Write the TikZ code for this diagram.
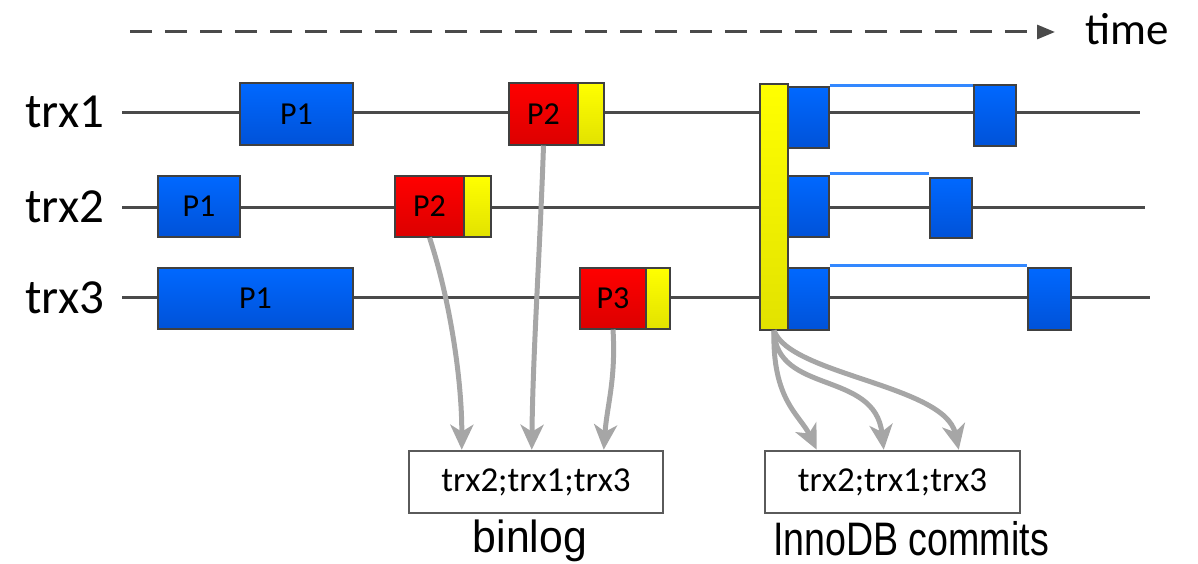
\documentclass[tikz,border=0pt]{standalone}
\usepackage{fontspec}
\setmainfont{Carlito}
\newfontfamily\captionfont{Liberation Sans}
\usetikzlibrary{arrows.meta,calc}

\definecolor{axisgray}{HTML}{4A4A4A}
\definecolor{flowgray}{HTML}{A6A6A6}
\definecolor{edgegray}{HTML}{404040}
\definecolor{logedge}{HTML}{5A5A5A}
\definecolor{blueTop}{HTML}{0068FF}
\definecolor{blueBot}{HTML}{0052D8}
\definecolor{redTop}{HTML}{FF0000}
\definecolor{redBot}{HTML}{DC0000}
\definecolor{yelTop}{HTML}{FFFF00}
\definecolor{yelBot}{HTML}{E2E200}
\definecolor{linkblue}{HTML}{3388FF}

\begin{document}
\begin{tikzpicture}[x=1pt,y=-1pt,
  phase/.style={draw=edgegray, line width=1.1pt, inner sep=0pt,
                font=\fontsize{32}{36}\selectfont},
  bluebox/.style={phase, top color=blueTop, bottom color=blueBot},
  redbox/.style={phase, top color=redTop, bottom color=redBot},
  yelbox/.style={phase, top color=yelTop, bottom color=yelBot},
  rowline/.style={axisgray, line width=3pt},
  rowlabel/.style={anchor=base west, inner sep=0pt, font=\fontsize{49}{55}\selectfont},
  flow/.style={flowgray, line width=5pt,
               -{Stealth[length=25pt,width=23pt,inset=7pt]}},
  logbox/.style={draw=logedge, line width=2.5pt, inner sep=0pt,
                 minimum width=254, minimum height=62,
                 font=\fontsize{35}{40}\selectfont},
  link/.style={linkblue, line width=3pt},
  caption/.style={anchor=base, inner sep=0pt}
]
\useasboundingbox (0,0) rectangle (1198,564);

% time axis
\coordinate (tstart) at (130,32);
\coordinate (tend) at (1055,32);
\draw[axisgray, line width=3pt, dash pattern=on 22pt off 13pt,
      -{Triangle[length=18pt,width=14pt]}] (tstart) -- (tend);
\node[anchor=base west, inner sep=0pt, font=\fontsize{45}{50}\selectfont]
  (timelbl) at (1085,45) {time};

% transaction timelines
\coordinate (r1a) at (122,113);  \coordinate (r1b) at (1140,113);
\coordinate (r2a) at (122,207);  \coordinate (r2b) at (1145,207);
\coordinate (r3a) at (122,297);  \coordinate (r3b) at (1150,297);
\draw[rowline] (r1a) -- (r1b);
\draw[rowline] (r2a) -- (r2b);
\draw[rowline] (r3a) -- (r3b);

\node[rowlabel] (lbl1) at (25,128) {trx1};
\node[rowlabel] (lbl2) at (25,222) {trx2};
\node[rowlabel] (lbl3) at (25,313) {trx3};

% trx1 phases
\node[bluebox, minimum width=113, minimum height=62] (t1p1) at (296.5,114) {P1};
\node[redbox,  minimum width=69,  minimum height=62] (t1p2) at (543.5,114) {P2};
\node[yelbox,  minimum width=26,  minimum height=62] (t1y)  at (591,114) {};

% trx2 phases
\node[bluebox, minimum width=82, minimum height=61] (t2p1) at (199,206.5) {P1};
\node[redbox,  minimum width=69, minimum height=61] (t2p2) at (429.5,206.5) {P2};
\node[yelbox,  minimum width=27, minimum height=61] (t2y)  at (477.5,206.5) {};

% trx3 phases
\node[bluebox, minimum width=195, minimum height=61] (t3p1) at (255.5,298.5) {P1};
\node[redbox,  minimum width=66,  minimum height=61] (t3p3) at (613,298.5) {P3};
\node[yelbox,  minimum width=24,  minimum height=61] (t3y)  at (658,298.5) {};

% group commit
\node[yelbox, minimum width=28, minimum height=246] (bar) at (774,207) {};

\node[bluebox, minimum width=41, minimum height=61] (c1a) at (808.5,117.5) {};
\node[bluebox, minimum width=42, minimum height=61] (c1b) at (995,115.5) {};
\node[bluebox, minimum width=41, minimum height=61] (c2a) at (808.5,206.5) {};
\node[bluebox, minimum width=42, minimum height=60] (c2b) at (951,208) {};
\node[bluebox, minimum width=41, minimum height=62] (c3a) at (808.5,299) {};
\node[bluebox, minimum width=43, minimum height=62] (c3b) at (1049.5,299) {};

\draw[link] ([yshift=0.5pt]c1a.north east) -- ([yshift=0.5pt]c1a.north east -| c1b.west);
\draw[link] ([yshift=1.5pt]c2a.north east) -- ([yshift=1.5pt]c2a.north east -| c2b.west);
\draw[link] ([yshift=1.5pt]c3a.north east) -- ([yshift=1.5pt]c3a.north east -| c3b.west);

% binlog and engine commit order
\node[logbox] (binlog) at (536,482) {trx2;trx1;trx3};
\node[logbox, minimum width=255] (inno) at (892.5,482) {trx2;trx1;trx3};

\node[caption] (binlbl) at (530,552)
  {\captionfont\fontsize{45}{50}\selectfont\scalebox{0.95}[1]{binlog}};
\node[caption] (innolbl) at (911,555)
  {\captionfont\fontsize{47}{52}\selectfont\scalebox{0.8}[1]{InnoDB commits}};

% flows into the binlog
\draw[flow] (t2p2.south) .. controls (450,300) and (462,380) .. ([xshift=54pt]binlog.north west);
\draw[flow] (t1p2.south) .. controls (540,250) and (533,350) .. ([xshift=124pt]binlog.north west);
\draw[flow] (t3p3.south) .. controls (616,380) and (607,405) .. ([xshift=196pt]binlog.north west);

% flows into the engine commits
\draw[flow] (bar.south) .. controls (772,400) and (800,415) .. ([xshift=53pt]inno.north west);
\draw[flow] (bar.south) .. controls (776,395) and (875,370) .. ([xshift=120pt]inno.north west);
\draw[flow] (bar.south) .. controls (790,375) and (945,385) .. ([xshift=195pt]inno.north west);
\end{tikzpicture}
\end{document}
